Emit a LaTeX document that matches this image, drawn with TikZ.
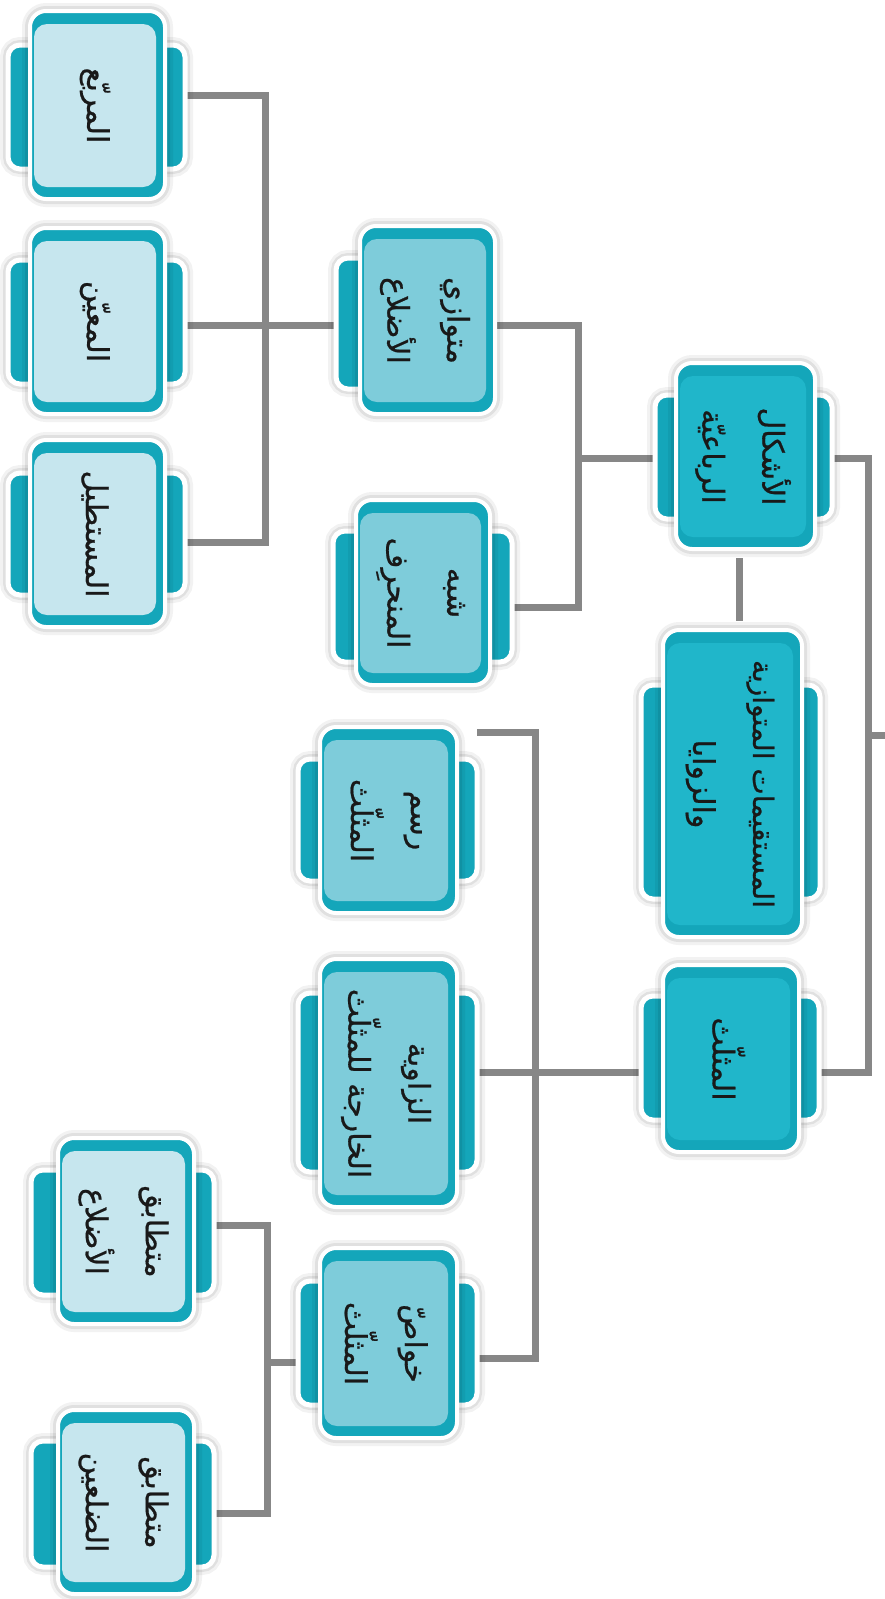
\documentclass[tikz,border=0pt]{standalone}
\usepackage{fontspec}
\newfontfamily\arabicfont[Script=Arabic, FakeBold=0.7]{DejaVu Sans}
\TeXXeTstate=1
\pgfdeclarelayer{bg}
\pgfdeclarelayer{background}
\pgfsetlayers{bg,background,main}
\definecolor{tealB}{HTML}{14A6BA}
\definecolor{lvlA}{HTML}{20B6CA}
\definecolor{lvlB}{HTML}{7ECCDA}
\definecolor{lvlC}{HTML}{C6E6EE}
\definecolor{linegray}{HTML}{878787}
\tikzset{
  conn/.style={draw=linegray, line width=7pt},
  glow/.style={preaction={draw=black, draw opacity=0.05, line width=16pt},
               preaction={draw=black, draw opacity=0.07, line width=10pt}},
  tabsty/.style={glow, fill=tealB, draw=white, line width=5pt, rounded corners=12pt,
    inner sep=0pt, outer sep=0pt},
  mainsty/.style={glow, fill=tealB, draw=white, line width=4pt, rounded corners=16pt,
    inner sep=0pt, outer sep=0pt},
  lbl/.style={font=\arabicfont\fontsize{30}{60}\selectfont, align=center, rotate=-90,
    inner sep=0pt, text=black!90},
}
% tab behind a box: name, x1, x2, y1, y2
\newcommand\tabbox[5]{%
  \node[tabsty, minimum width={(#3-#2+4)*1pt}, minimum height={(#5-#4+4)*1pt}]
    (#1) at ({(#2+#3)/2},{(#4+#5)/2}) {};}
% main box: name, x1, x2, y1, y2, inner colour, text
\newcommand\mainbox[7]{%
  \node[mainsty, minimum width={(#3-#2+4)*1pt}, minimum height={(#5-#4+4)*1pt}]
    (#1) at ({(#2+#3)/2},{(#4+#5)/2}) {};
  \fill[#6, rounded corners=13pt] ({#2+2},{#4+11}) rectangle ({#3-7},{#5-10});
  \node[lbl] (#1L) at ({(#2+#3-5)/2},{(#4+#5+1)/2}) {#7};}
\newcommand\ar[1]{\beginR #1\endR}

\begin{document}
\begin{tikzpicture}[x=1pt, y=-1pt]
\useasboundingbox (0,0) rectangle (885,1599);
\begin{pgfonlayer}{bg}
  \fill[white] (0,0) rectangle (885,1599);
\end{pgfonlayer}

% ---- level 3 (quadrilaterals)
\tabbox{sqT}{10}{183}{47}{167}
\mainbox{sq}{32}{163}{13}{197}{lvlC}{\ar{المربّع}}
\tabbox{rhT}{10}{183}{262}{382}
\mainbox{rh}{32}{163}{230}{412}{lvlC}{\ar{المعيّن}}
\tabbox{reT}{10}{183}{475}{593}
\mainbox{re}{32}{163}{442}{625}{lvlC}{\ar{المستطيل}}

% ---- level 2 (quadrilaterals)
\tabbox{paT}{338}{430}{260}{387}
\mainbox{pa}{362}{493}{228}{412}{lvlB}{\ar{متوازي}\\\ar{الأضلاع}}
\tabbox{trT}{335}{510}{533}{660}
\mainbox{tr}{358}{488}{502}{683}{lvlB}{\ar{شبه}\\\ar{المنحرِف}}

% ---- level 1
\tabbox{qlT}{657}{830}{397}{517}
\mainbox{ql}{678}{813}{365}{547}{lvlA}{\ar{الأشكال}\\\ar{الرباعيّة}}
\tabbox{plT}{643}{818}{687}{897}
\mainbox{pl}{665}{800}{632}{935}{lvlA}{\fontsize{28}{60}\selectfont\ar{المستقيمات المتوازية}\\\ar{والزوايا}}
\tabbox{tgT}{643}{817}{998}{1118}
\mainbox{tg}{665}{797}{967}{1150}{lvlA}{\ar{المثلّث}}

% ---- level 2 (triangle)
\tabbox{drT}{300}{475}{761}{879}
\mainbox{dr}{322}{455}{729}{911}{lvlB}{\ar{رسم}\\\ar{المثلّث}}
\tabbox{exT}{300}{475}{995}{1170}
\mainbox{ex}{322}{455}{961}{1205}{lvlB}{\ar{الزاوية}\\\ar{الخارجة للمثلّث}}
\tabbox{prT}{300}{475}{1283}{1403}
\mainbox{pr}{322}{455}{1250}{1436}{lvlB}{\ar{خواصّ}\\\ar{المثلّث}}

% ---- level 3 (triangles)
\tabbox{eqT}{33}{212}{1172}{1293}
\mainbox{eq}{60}{192}{1140}{1322}{lvlC}{\ar{متطابق}\\\ar{الأضلاع}}
\tabbox{isT}{33}{212}{1443}{1565}
\mainbox{is}{60}{192}{1412}{1592}{lvlC}{\ar{متطابق}\\\ar{الضلعين}}

\coordinate (rootEnd) at (885,735);

% ---- connectors
\begin{pgfonlayer}{background}
  \draw[conn] (sqT.east |- 0,95) -- (265,95) -- (265,542) -- (reT.east |- 0,542);
  \draw[conn] (rhT.east |- 0,325) -- (paT.west |- 0,325);
  \draw[conn] (pa.east |- 0,325) -- (578,325) -- (578,607) -- (trT.east |- 0,607);
  \draw[conn] (qlT.west |- 0,458) -- (578,458);
  \draw[conn] (qlT.east |- 0,458) -- (868,458) -- (868,1072) -- (tgT.east |- 0,1072);
  \draw[conn] (868,735) -- (rootEnd);
  \draw[conn, shorten <=9pt, shorten >=9pt] (ql.south -| 739,0) -- (pl.north -| 739,0);
  \draw[conn] (tgT.west |- 0,1072) -- (exT.east |- 0,1072);
  \draw[conn] (drT.east |- 0,732) -- (535,732) -- (535,1358) -- (prT.east |- 0,1358);
  \draw[conn] (prT.west |- 0,1362) -- (267,1362);
  \draw[conn] (eqT.east |- 0,1225) -- (267,1225) -- (267,1513) -- (isT.east |- 0,1513);
\end{pgfonlayer}
\end{tikzpicture}
\end{document}
